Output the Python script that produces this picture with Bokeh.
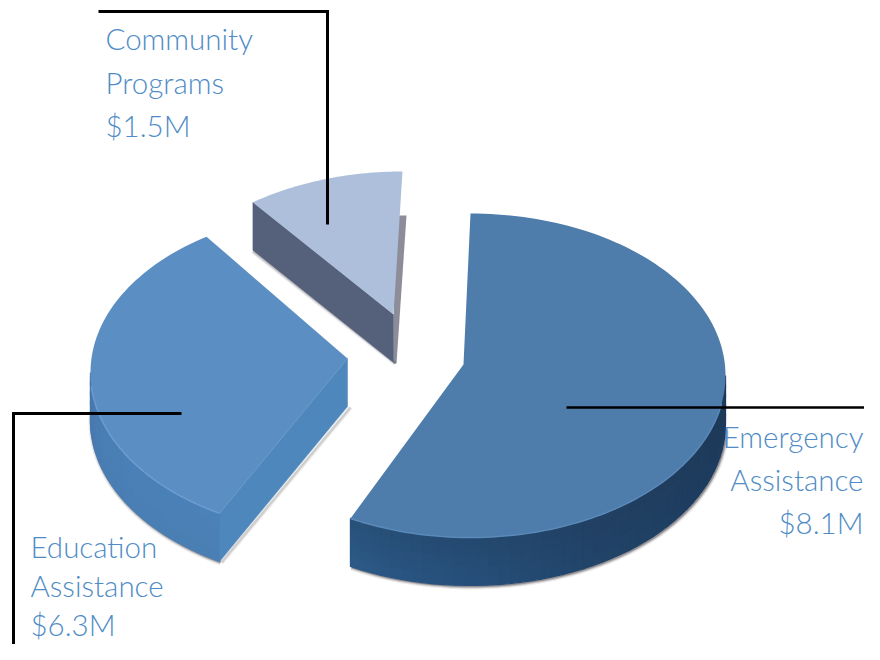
import numpy as np
from bokeh.plotting import figure
from bokeh.models import Range1d
from bokeh.core.properties import value
from bokeh.embed import file_html
from bokeh.resources import INLINE

# Chart content
categories = ["Emergency Assistance", "Education Assistance", "Community Programs"]
amounts = ["$8.1M", "$6.3M", "$1.5M"]
# Slice sizes in percent as drawn in the picture
shares = [57.8, 32.5, 9.7]

FONT = "Lato Light"
FONT_SIZE = "29.5px"
TEXT_COLOR = "#4f8cc6"
TOP_COLORS = ["#4e7cab", "#5b8ec3", "#aebfdb"]
RIM_COLORS = ["#5a8aba", "#6c9dd0"]

RX, RY, DEPTH = 255.0, 162.0, 48.0
CENTERS = [(470.0, 375.0), (345.0, 372.0), (402.0, 333.0)]
APEXES = [(463.0, 364.0), (347.0, 358.0), (393.0, 314.0)]
PADS = [(0.0, 0.0), (1.5, 1.9), (-1.0, 0.0)]

p = figure(width=864, height=644, output_backend="svg", toolbar_location=None,
           x_range=Range1d(0, 864), y_range=Range1d(644, 0),
           min_border=0, outline_line_color=None, background_fill_color="white")
p.axis.visible = False
p.grid.visible = False


def hex2rgb(h):
    return np.array([int(h[i:i + 2], 16) for i in (1, 3, 5)], float)


def mix(a, b, t):
    c = hex2rgb(a) * (1 - t) + hex2rgb(b) * t
    return "#%02x%02x%02x" % tuple(int(round(v)) for v in c)


def ramp(stops, t):
    pos = np.linspace(0, 1, len(stops))
    i = min(int(np.searchsorted(pos, t, side="right")) - 1, len(stops) - 2)
    return mix(stops[i], stops[i + 1], (t - pos[i]) / (pos[i + 1] - pos[i]))


def rim(center, th_deg, dy=0.0):
    th = np.radians(np.asarray(th_deg, float))
    return center[0] + RX * np.sin(th), center[1] - RY * np.cos(th) + dy


def wall(center, th0, th1, top_stops, bot_stops, n=48, rows=5):
    ths = np.linspace(th0, th1, n + 1)
    xs, ys, cols = [], [], []
    for i in range(n):
        for r in range(rows):
            d0, d1 = DEPTH * r / rows, DEPTH * (r + 1) / rows
            xa, ya = rim(center, ths[i:i + 2], d0)
            xb, yb = rim(center, ths[i:i + 2], d1)
            xs.append(list(xa) + list(xb[::-1]))
            ys.append(list(ya) + list(yb[::-1]))
            t = (i + .5) / n
            cols.append(mix(ramp(top_stops, t), ramp(bot_stops, t), (r + .5) / rows))
    p.patches(xs, ys, fill_color=cols, line_color=cols, line_width=1.3)


def shadow(center, th0, th1):
    ths = np.linspace(th0, th1, 80)
    x, y = rim(center, ths, DEPTH)
    for w, a in ((6, .10), (3.5, .22), (1.5, .35)):
        p.line(x + 1, y + 1, line_color="#3a3036", line_width=w, line_alpha=a)


# slice angles from the shares
edges = np.cumsum([0] + shares) * 3.6
spans = []
for i in range(3):
    spans.append((edges[i] + PADS[i][0], edges[i + 1] + PADS[i][1]))
spans[2] = (spans[2][0], 360.0)

# Community slice
c, a, (s, e) = CENTERS[2], APEXES[2], spans[2]
x0, y0 = rim(c, s)
x1, y1 = rim(c, e)
p.patch([x1 - 8, x1 + 4, a[0] + 3, a[0]], [y1 + DEPTH - 4, y1 + DEPTH - 4, a[1] + DEPTH + 1, a[1] + DEPTH + 1],
        fill_color="#8d8d99", line_color=None)
for w, al in ((5, .1), (2.5, .25)):
    p.line([x0, a[0] + 2], [y0 + DEPTH + 1, a[1] + DEPTH + 1], line_color="#4a4a55", line_width=w, line_alpha=al)
p.patch([x0, a[0], a[0], x0], [y0, a[1], a[1] + DEPTH, y0 + DEPTH], fill_color="#55607a", line_color="#55607a", line_width=.5)
th = np.linspace(s, e, 40)
xr, yr = rim(c, th)
p.patch(list(xr) + [a[0]], list(yr) + [a[1]], fill_color=TOP_COLORS[2], line_color=None)

# Education slice
c, a, (s, e) = CENTERS[1], APEXES[1], spans[1]
x0, y0 = rim(c, s)
shadow(c, s, 272)
for w, al in ((5, .1), (2.5, .25)):
    p.line([x0 + 2, a[0] + 3], [y0 + DEPTH + 1, a[1] + DEPTH + 1], line_color="#6a6a70", line_width=w, line_alpha=al)
wall(c, 270, s, ["#4676ab", "#4a7fb5", "#4a80b6", "#4b82b8"], ["#4677ac", "#4a7eb3", "#4a7fb4", "#4a7fb3"])
p.patch([x0, a[0], a[0], x0], [y0, a[1], a[1] + DEPTH, y0 + DEPTH], fill_color="#4e87bc", line_color="#4e87bc", line_width=.5)
th = np.linspace(s, e, 80)
xr, yr = rim(c, th)
p.patch(list(xr) + [a[0]], list(yr) + [a[1]], fill_color=TOP_COLORS[1], line_color=None)
th = np.linspace(s, 265, 60)
xr, yr = rim(c, th)
p.line(xr, yr, line_color=RIM_COLORS[1], line_width=1.5)

# Emergency slice
c, a, (s, e) = CENTERS[0], APEXES[0], spans[0]
shadow(c, 92, e)
wall(c, 90, e, ["#1d3856", "#1f3c5b", "#213f61", "#24486f", "#285079"],
     ["#1e3b5c", "#1e3d60", "#214468", "#264f7a", "#2c5a88"])
th = np.linspace(s, e, 140)
xr, yr = rim(c, th)
p.patch(list(xr) + [a[0]], list(yr) + [a[1]], fill_color=TOP_COLORS[0], line_color=None)
th = np.linspace(100, e, 80)
xr, yr = rim(c, th)
p.line(xr, yr, line_color=RIM_COLORS[0], line_width=1.5)

# Leader lines
p.line([98, 327, 327], [11, 11, 224], line_color="black", line_width=3, line_join="miter")
p.line([13, 13, 181], [644, 413, 413], line_color="black", line_width=3, line_join="miter")
p.line([566, 864], [407, 407], line_color="black", line_width=2.6)

BASELINE_SHIFT = -11


def label(x, baselines, lines, align):
    p.text(x=[x] * len(lines), y=[b + BASELINE_SHIFT for b in baselines], text=lines,
           text_font=value(FONT), text_font_size=FONT_SIZE,
           text_color=TEXT_COLOR, text_align=align, text_baseline="alphabetic")


def split(i):
    return categories[i].split(" ") + [amounts[i]]


label(105, [49, 93, 136], split(2), "left")
label(863, [447, 490, 533], split(0), "right")
label(30, [557, 596, 635], split(1), "left")

open("out.html", "w").write(file_html(p, INLINE))
